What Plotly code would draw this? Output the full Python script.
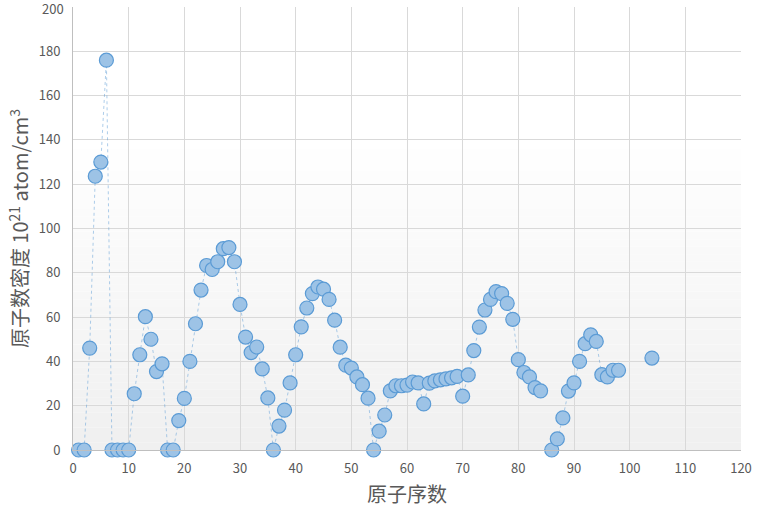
import plotly.graph_objects as go

# atomic number vs atom density (10^21 atom/cm^3)
atomic_numbers = list(range(1, 105))
density = [
    0, 0, 46, 123.6, 130, 176, 0, 0, 0, 0,              # 1-10
    25.4, 43, 60.2, 50, 35.4, 38.9, 0, 0, 13.3, 23.3,   # 11-20
    40, 57, 72.2, 83.3, 81.5, 85, 90.9, 91.4, 85, 65.7, # 21-30
    51, 44, 46.5, 36.6, 23.5, 0, 10.8, 18, 30.3, 43,    # 31-40
    55.6, 64.1, 70.6, 73.6, 72.6, 68, 58.6, 46.4, 38.3, 37,  # 41-50
    33, 29.5, 23.4, 0, 8.5, 15.8, 26.7, 29, 29, 29.3,   # 51-60
    30.7, 30.3, 20.8, 30.2, 31.2, 31.7, 32.1, 32.6, 33.2, 24.3,  # 61-70
    33.9, 44.9, 55.5, 63.2, 68, 71.5, 70.6, 66.2, 59, 40.8,  # 71-80
    35, 33, 28.2, 26.7, None, 0, 5, 14.5, 26.6, 30.3,   # 81-90
    40, 48, 52, 49, 34, 33, 36, 36, None, None,         # 91-100
    None, None, None, 41.5,                             # 101-104
]
x_ticks = list(range(0, 121, 10))
y_ticks = list(range(0, 201, 20))
y_max = y_ticks[-1]

fig = go.Figure()

# fake vertical gradient for the plot background
n = 40
start = 0.68
for i in range(n):
    y0 = start * i / n
    y1 = start * (i + 1) / n
    g = int(240 + 15 * (i + 0.5) / n)
    fig.add_shape(type="rect", xref="paper", yref="paper", x0=0, x1=1, y0=y0, y1=y1,
                  fillcolor=f"rgb({g},{g},{g})", line_width=0, layer="below")

fig.add_trace(go.Scatter(
    x=atomic_numbers, y=density,
    mode="lines+markers",
    connectgaps=False,
    line=dict(color="rgba(91,155,213,0.5)", width=1, dash="dot"),
    marker=dict(size=14, color="#9dc3e6", line=dict(color="#5b9bd5", width=1.2)),
    cliponaxis=False,
))

# plotly drops the top tick label (it touches the page edge), so put it back
fig.add_annotation(xref="paper", yref="y", x=0, y=y_max, text=str(y_max),
                   showarrow=False, xanchor="right", yanchor="middle",
                   xshift=-8, yshift=-1, borderpad=0,
                   font=dict(size=13, color="#595959"))

font = "Noto Sans CJK SC, Noto Sans, sans-serif"
fig.update_layout(
    width=765, height=511,
    margin=dict(l=73, r=24, t=7, b=61),
    paper_bgcolor="white",
    plot_bgcolor="rgba(0,0,0,0)",
    showlegend=False,
    font=dict(family=font, color="#595959", size=13),
    xaxis=dict(
        range=[0, 120], tickmode="array", tickvals=x_ticks,
        showgrid=True, gridcolor="#d9d9d9", gridwidth=1,
        showline=True, linecolor="#bfbfbf", linewidth=1,
        zeroline=False, ticks="", ticklen=0, automargin=False,
        ticklabelstandoff=6,
        title=dict(text="原子序数", font=dict(size=20, color="#595959"), standoff=12),
    ),
    yaxis=dict(
        range=[0, 200], tickmode="array", tickvals=y_ticks,
        showgrid=True, gridcolor="#d9d9d9", gridwidth=1,
        showline=True, linecolor="#bfbfbf", linewidth=1,
        zeroline=False, ticks="", ticklen=0, automargin=False,
        ticklabelstandoff=9,
        title=dict(text="原子数密度 10<sup>21</sup> atom/cm<sup>3</sup>",
                   font=dict(size=20, color="#595959"), standoff=4),
    ),
)

# drop the default 8px page margin so the figure fills the window
fig.write_html("out.html", config={"displayModeBar": False},
               post_script="document.body.style.margin='0';")
